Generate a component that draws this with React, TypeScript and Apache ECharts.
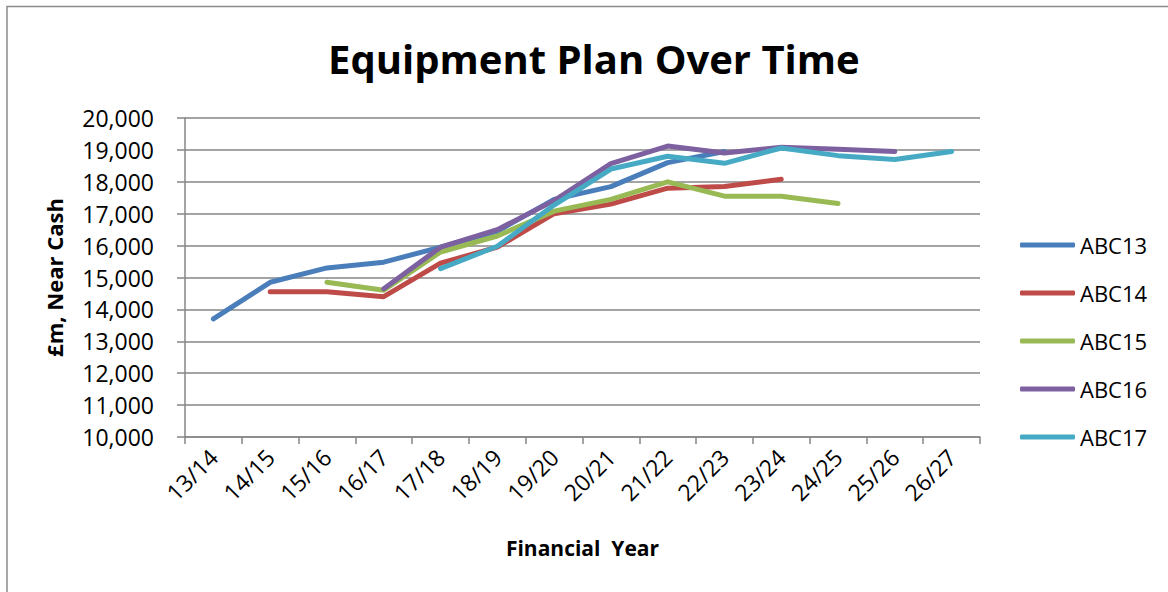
import React, { useEffect, useRef } from "react";
import * as echarts from "echarts";

const categories = ["13/14", "14/15", "15/16", "16/17", "17/18", "18/19", "19/20", "20/21", "21/22", "22/23", "23/24", "24/25", "25/26", "26/27"];
const seriesNames = ["ABC13", "ABC14", "ABC15", "ABC16", "ABC17"];
const abc13 = [13700, 14850, 15300, 15480, 15950, 16450, 17450, 17850, 18600, 18950, null, null, null, null];
const abc14 = [null, 14550, 14550, 14400, 15450, 15950, 17000, 17300, 17800, 17850, 18080, null, null, null];
const abc15 = [null, null, 14850, 14600, 15800, 16300, 17080, 17450, 18000, 17550, 17550, 17320, null, null];
const abc16 = [null, null, null, 14650, 15950, 16500, 17410, 18570, 19120, 18900, 19080, 19020, 18950, null];
const abc17 = [null, null, null, null, 15280, 15980, 17270, 18400, 18800, 18580, 19060, 18820, 18700, 18950];
const seriesColors = ["#4A7EBB", "#BE4B48", "#98B954", "#7D60A0", "#46AAC5"];
const yTickValues = [10000, 11000, 12000, 13000, 14000, 15000, 16000, 17000, 18000, 19000, 20000];

const FONT = "Open Sans";
const AXIS_GRAY = "#868686";

function fmt(v: number): string {
  return String(v).replace(/\B(?=(\d{3})+(?!\d))/g, ",");
}

export default function App() {
  const ref = useRef<HTMLDivElement>(null);
  useEffect(() => {
    if (!ref.current) return;
    const chart = echarts.init(ref.current, undefined, { renderer: "svg" });
    const allData = [abc13, abc14, abc15, abc16, abc17];
    chart.setOption({
      animation: false,
      backgroundColor: "#ffffff",
      title: {
        text: "Equipment Plan Over Time",
        left: 328,
        top: 38,
        padding: 0,
        textStyle: { fontFamily: FONT, fontWeight: "bold", fontSize: 40, color: "#000" },
      },
      graphic: [
        {
          type: "rect",
          z: -10,
          silent: true,
          shape: { x: 7, y: 6.5, width: 1400, height: 800 },
          style: { fill: "none", stroke: "#8c8c8c", lineWidth: 1.5 },
        },
      ],
      grid: { left: 185, right: 188, top: 118, bottom: 155, containLabel: false, outerBoundsMode: "none" },
      legend: {
        orient: "vertical",
        left: 1020,
        top: 234,
        padding: 0,
        icon: "roundRect",
        itemWidth: 55,
        itemHeight: 5,
        itemGap: 26,
        data: seriesNames,
        textStyle: { fontFamily: FONT, fontSize: 22, color: "#000", lineHeight: 22 },
      },
      xAxis: {
        type: "category",
        data: categories,
        boundaryGap: true,
        axisLine: { lineStyle: { color: AXIS_GRAY, width: 1.5 } },
        axisTick: { show: true, length: 7, lineStyle: { color: AXIS_GRAY, width: 1.5 } },
        axisLabel: { interval: 0, rotate: 45, margin: 16, fontFamily: FONT, fontSize: 23, color: "#000" },
        splitLine: { show: false },
        name: "Financial  Year",
        nameLocation: "middle",
        nameGap: 100,
        nameTextStyle: { fontFamily: FONT, fontWeight: "bold", fontSize: 21, color: "#000" },
      },
      yAxis: {
        type: "value",
        min: yTickValues[0],
        max: yTickValues[yTickValues.length - 1],
        interval: yTickValues[1] - yTickValues[0],
        axisLine: { show: true, lineStyle: { color: AXIS_GRAY, width: 1.5 } },
        axisTick: { show: true, length: 8, lineStyle: { color: AXIS_GRAY, width: 1.5 } },
        axisLabel: { margin: 31, fontFamily: FONT, fontSize: 23, color: "#000", formatter: (v: number) => fmt(v) },
        splitLine: { show: true, lineStyle: { color: AXIS_GRAY, width: 1.5 } },
        name: "£m, Near Cash",
        nameLocation: "middle",
        nameGap: 120,
        nameTextStyle: { fontFamily: FONT, fontWeight: "bold", fontSize: 22, color: "#000" },
      },
      series: seriesNames.map((name, i) => ({
        name,
        type: "line",
        data: allData[i],
        symbol: "none",
        showSymbol: false,
        connectNulls: false,
        itemStyle: { color: seriesColors[i] },
        lineStyle: { color: seriesColors[i], width: 5, cap: "round", join: "round" },
      })),
    });
    return () => chart.dispose();
  }, []);
  return <div ref={ref} style={{ position: "absolute", left: 0, top: 0, width: 1168, height: 592 }} />;
}
